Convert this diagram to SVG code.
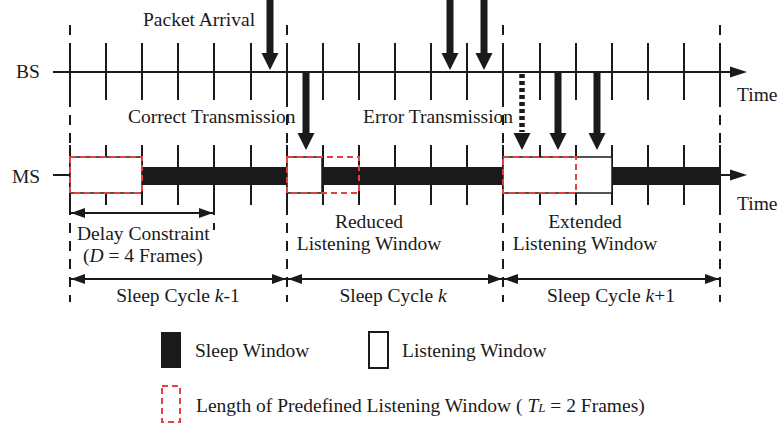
<svg xmlns="http://www.w3.org/2000/svg" width="778" height="430" viewBox="0 0 778 430">
<defs>
<style>
text{font-family:"Liberation Serif","Times New Roman",serif;font-size:19.5px;fill:#1a1a1a}
.ln{stroke:#1a1a1a;stroke-width:2;fill:none}
.dash{stroke:#1a1a1a;stroke-width:2;stroke-dasharray:10,8;fill:none}
.tick{stroke:#1a1a1a;stroke-width:2}
.sleep{fill:#1a1a1a}
.listen{fill:#fff;stroke:#1a1a1a;stroke-width:1.5}
.pre{fill:none;stroke:#e8403a;stroke-width:2;stroke-dasharray:6,4}
.arr{fill:#1a1a1a}
.it{font-style:italic}
</style>
<marker id="ah" viewBox="0 0 14 10" refX="14" refY="5" markerWidth="14" markerHeight="10" orient="auto-start-reverse" markerUnits="userSpaceOnUse">
<path d="M0,0 L14,5 L0,10 Z" fill="#1a1a1a"/>
</marker>
</defs>
<rect width="778" height="430" fill="#fff"/>

<g id="connectors">
<!-- cycle dashed boundaries -->
<line class="dash" x1="70" y1="25" x2="70" y2="302"/>
<line class="dash" x1="287" y1="25" x2="287" y2="302"/>
<line class="dash" x1="503" y1="25" x2="503" y2="302"/>
<line class="dash" x1="720" y1="25" x2="720" y2="302"/>
<line class="dash" x1="214" y1="205" x2="214" y2="230"/>

<!-- BS timeline -->
<line class="ln" x1="53" y1="72" x2="732" y2="72"/>
<path class="arr" d="M730,66.5 L747,72 L730,77.5 Z"/>
<g class="tick">
<line x1="70" y1="43" x2="70" y2="100"/><line x1="106" y1="43" x2="106" y2="100"/><line x1="142" y1="43" x2="142" y2="100"/><line x1="178" y1="43" x2="178" y2="100"/><line x1="214" y1="43" x2="214" y2="100"/><line x1="251" y1="43" x2="251" y2="100"/>
<line x1="287" y1="43" x2="287" y2="100"/><line x1="323" y1="43" x2="323" y2="100"/><line x1="359" y1="43" x2="359" y2="100"/><line x1="395" y1="43" x2="395" y2="100"/><line x1="431" y1="43" x2="431" y2="100"/><line x1="467" y1="43" x2="467" y2="100"/>
<line x1="503" y1="43" x2="503" y2="100"/><line x1="540" y1="43" x2="540" y2="100"/><line x1="576" y1="43" x2="576" y2="100"/><line x1="612" y1="43" x2="612" y2="100"/><line x1="648" y1="43" x2="648" y2="100"/><line x1="684" y1="43" x2="684" y2="100"/>
<line x1="720" y1="43" x2="720" y2="100"/>
</g>

<!-- MS timeline -->
<line class="ln" x1="53" y1="175" x2="70" y2="175"/>
<line class="ln" x1="720" y1="175" x2="732" y2="175"/>
<path class="arr" d="M730,169.5 L747,175 L730,180.5 Z"/>
<g class="tick">
<line x1="70" y1="145" x2="70" y2="205"/><line x1="106" y1="145" x2="106" y2="205"/><line x1="142" y1="145" x2="142" y2="205"/><line x1="178" y1="145" x2="178" y2="205"/><line x1="214" y1="145" x2="214" y2="205"/><line x1="251" y1="145" x2="251" y2="205"/>
<line x1="287" y1="145" x2="287" y2="205"/><line x1="323" y1="145" x2="323" y2="205"/><line x1="359" y1="145" x2="359" y2="205"/><line x1="395" y1="145" x2="395" y2="205"/><line x1="431" y1="145" x2="431" y2="205"/><line x1="467" y1="145" x2="467" y2="205"/>
<line x1="503" y1="145" x2="503" y2="205"/><line x1="540" y1="145" x2="540" y2="205"/><line x1="576" y1="145" x2="576" y2="205"/><line x1="612" y1="145" x2="612" y2="205"/><line x1="648" y1="145" x2="648" y2="205"/><line x1="684" y1="145" x2="684" y2="205"/>
<line x1="720" y1="145" x2="720" y2="205"/>
</g>

<!-- packet arrival arrows -->
<path class="arr" d="M266.5,0 H273.5 V53 H278.5 L270,70 L261.5,53 H266.5 Z"/>
<path class="arr" d="M446.5,0 H453.5 V53 H458.5 L450,70 L441.5,53 H446.5 Z"/>
<path class="arr" d="M480.5,0 H487.5 V53 H492.5 L484,70 L475.5,53 H480.5 Z"/>

<!-- transmission arrows -->
<path class="arr" d="M302.5,73 H309.5 V133 H314.5 L306,150 L297.5,133 H302.5 Z"/>
<line x1="522" y1="74" x2="522" y2="132" stroke="#1a1a1a" stroke-width="5.5" stroke-dasharray="4,3"/>
<path class="arr" d="M513.5,133 L530.5,133 L522,150 Z"/>
<path class="arr" d="M554.5,73 H561.5 V133 H566.5 L558,150 L549.5,133 H554.5 Z"/>
<path class="arr" d="M593.5,73 H600.5 V133 H605.5 L597,150 L588.5,133 H593.5 Z"/>

<!-- delay constraint & sleep cycle dimension arrows -->
<line class="ln" x1="71" y1="213" x2="213" y2="213" marker-start="url(#ah)" marker-end="url(#ah)"/>
<line class="ln" x1="71" y1="279" x2="286" y2="279" marker-start="url(#ah)" marker-end="url(#ah)"/>
<line class="ln" x1="288" y1="279" x2="502" y2="279" marker-start="url(#ah)" marker-end="url(#ah)"/>
<line class="ln" x1="504" y1="279" x2="719" y2="279" marker-start="url(#ah)" marker-end="url(#ah)"/>
</g>

<g id="cycle-k-1">
<rect class="listen" x="70" y="157" width="72" height="36"/>
<rect class="sleep" x="142" y="167" width="145" height="18"/>
<rect class="pre" x="70" y="157" width="72" height="36"/>
</g>
<g id="cycle-k">
<rect class="listen" x="287" y="157" width="35" height="36"/>
<rect class="sleep" x="322" y="167" width="181" height="18"/>
<rect class="pre" x="287" y="157" width="72" height="36"/>
</g>
<g id="cycle-k1">
<rect class="listen" x="503" y="157" width="109" height="36"/>
<rect class="sleep" x="612" y="167" width="108" height="18"/>
<rect class="pre" x="503" y="157" width="73" height="36"/>
</g>

<g id="labels">
<text x="143" y="26">Packet Arrival</text>
<text x="16" y="78">BS</text>
<text x="737" y="101">Time</text>
<text x="128" y="123">Correct Transmission</text>
<text x="363" y="123">Error Transmission</text>
<text x="12" y="183">MS</text>
<text x="737" y="210">Time</text>
<text x="77" y="240">Delay Constraint</text>
<text x="83" y="262">(<tspan class="it">D</tspan> = 4 Frames)</text>
<text x="369" y="228" text-anchor="middle">Reduced</text>
<text x="369" y="250" text-anchor="middle">Listening Window</text>
<text x="585" y="228" text-anchor="middle">Extended</text>
<text x="585" y="250" text-anchor="middle">Listening Window</text>
<text x="178" y="302" text-anchor="middle">Sleep Cycle <tspan class="it">k</tspan>-1</text>
<text x="393" y="302" text-anchor="middle">Sleep Cycle <tspan class="it">k</tspan></text>
<text x="611" y="302" text-anchor="middle">Sleep Cycle <tspan class="it">k</tspan>+1</text>
</g>

<g id="legend">
<rect class="sleep" x="161" y="332" width="20" height="36"/>
<text x="195" y="357">Sleep Window</text>
<rect x="369" y="332" width="19" height="36" fill="#fff" stroke="#1a1a1a" stroke-width="2"/>
<text x="402" y="357">Listening Window</text>
<rect class="pre" x="162" y="386" width="18" height="36"/>
<text x="196" y="412">Length of Predefined Listening Window ( <tspan class="it">T</tspan><tspan class="it" font-size="13">L</tspan> = 2 Frames)</text>
</g>
</svg>
